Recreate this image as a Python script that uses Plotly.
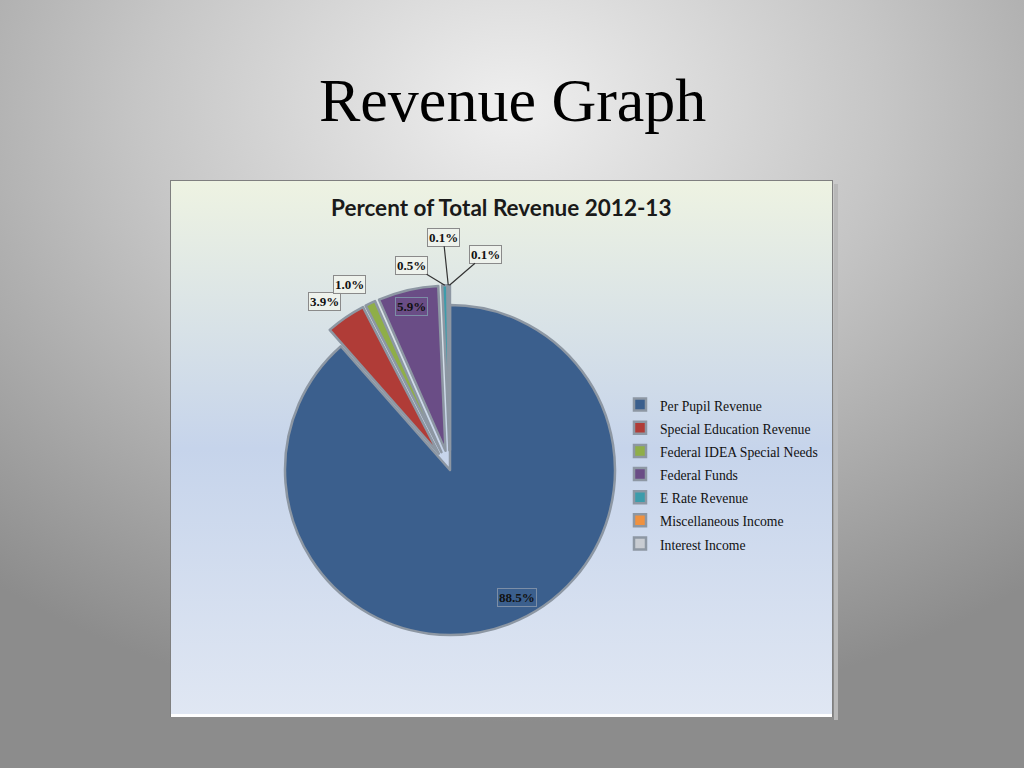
import math
import urllib.parse
import plotly.graph_objects as go

# ---------------- data ----------------
categories = [
    "Per Pupil Revenue",
    "Special Education Revenue",
    "Federal IDEA Special Needs",
    "Federal Funds",
    "E Rate Revenue",
    "Miscellaneous Income",
    "Interest Income",
]
values = [88.5, 3.9, 1.0, 5.9, 0.5, 0.1, 0.1]
slice_colors = ["#3b5f8d", "#b03c37", "#8fae48", "#6a4d86", "#3d9cab", "#f0913f", "#c8ccd2"]
pulls = [0.0, 0.12, 0.12, 0.12, 0.12, 0.12, 0.12]

slide_title = "Revenue Graph"
chart_title = "Percent of Total Revenue 2012-13"

# ---------------- geometry / layout ----------------
W, H = 1024, 768
CX, CY, R = 450, 470, 165
MAXPULL = max(pulls)
side = 2 * R * (1 + MAXPULL)
dom_x = [(CX - side / 2) / W, (CX + side / 2) / W]
dom_y = [1 - (CY + side / 2) / H, 1 - (CY - side / 2) / H]

# label placement style per slice: (radius factor, angle bias deg, inside?, arrow offset px or None)
label_style = [
    (0.87, -7, True, None),
    (1.15, -2.5, False, None),
    (1.16, -3, False, None),
    (0.90, 0, True, None),
    (1.0, 0, False, (-33, -20)),
    (1.0, 0, False, (-5, -48)),
    (1.0, 0, False, (36, -31)),
]

total = sum(values)
cum = 0.0
annotations = []
for v, p, (rf, bias, inside, arr) in zip(values, pulls, label_style):
    start = cum / total * 360
    cum += v
    end = cum / total * 360
    mid = math.radians((start + end) / 2)
    lab = math.radians((start + end) / 2 + bias)
    ox, oy = CX + p * R * math.sin(mid), CY - p * R * math.cos(mid)
    px, py = ox + rf * R * math.sin(lab), oy - rf * R * math.cos(lab)
    ann = dict(
        x=px / W, y=1 - py / H, xref="paper", yref="paper",
        xanchor="center", yanchor="middle",
        text=f"<b>{v:.1f}%</b>",
        font=dict(family="Liberation Serif", size=13, color="#111111"),
        borderwidth=1, borderpad=1,
    )
    if inside:
        ann.update(showarrow=False, bgcolor="rgba(0,0,0,0)", bordercolor="#7c8ea6")
    else:
        ann.update(bgcolor="rgba(238,242,236,0.95)", bordercolor="#8a8a8a")
        if arr is None:
            ann.update(showarrow=False)
        else:
            ann.update(showarrow=True, arrowhead=0, arrowwidth=1.2,
                       arrowcolor="#333333", ax=arr[0], ay=arr[1], standoff=0)
    annotations.append(ann)

annotations.append(dict(
    x=512 / W, y=1 - 100 / H, xref="paper", yref="paper", showarrow=False,
    xanchor="center", yanchor="middle",
    text=slide_title, font=dict(family="Liberation Serif", size=62, color="#000000"),
))
annotations.append(dict(
    x=501 / W, y=1 - 207 / H, xref="paper", yref="paper", showarrow=False,
    xanchor="center", yanchor="middle",
    text=f"<b>{chart_title}</b>", font=dict(family="Lato", size=22.5, color="#1a1a1a"),
))

# background (slide radial gradient + chart area linear gradient)
svg = f"""<svg xmlns='http://www.w3.org/2000/svg' width='{W}' height='{H}' viewBox='0 0 {W} {H}'>
<defs>
<radialGradient id='bg' cx='50%' cy='14%' r='80%' fx='50%' fy='14%'>
<stop offset='0' stop-color='#efefef'/>
<stop offset='0.45' stop-color='#c6c6c6'/>
<stop offset='1' stop-color='#8c8c8c'/>
</radialGradient>
<linearGradient id='ch' x1='0' y1='0' x2='0' y2='1'>
<stop offset='0' stop-color='#eef3e2'/>
<stop offset='0.5' stop-color='#c6d4eb'/>
<stop offset='1' stop-color='#e0e7f3'/>
</linearGradient>
</defs>
<rect x='0' y='0' width='{W}' height='{H}' fill='url(#bg)'/>
<rect x='834' y='184' width='4' height='536' fill='#b8b8b8'/>
<rect x='170.5' y='180.5' width='662' height='536' fill='url(#ch)' stroke='#7f7f7f' stroke-width='1'/>
<rect x='171' y='714' width='661' height='3' fill='#ffffff'/>
</svg>"""
bg_uri = "data:image/svg+xml;charset=utf-8," + urllib.parse.quote(svg)

legend_labels = [f"<span style='font-size:13.7px'>{c}</span>" for c in categories]

fig = go.Figure(go.Pie(
    labels=legend_labels,
    values=values,
    sort=False,
    direction="clockwise",
    rotation=0,
    pull=pulls,
    textinfo="none",
    hoverinfo="label+percent",
    marker=dict(colors=slice_colors, line=dict(color="#8d97a3", width=2.5)),
    domain=dict(x=dom_x, y=dom_y),
))

fig.update_layout(
    width=W, height=H,
    margin=dict(l=0, r=0, t=0, b=0),
    paper_bgcolor="#b5b5b5",
    images=[dict(source=bg_uri, xref="paper", yref="paper", x=0, y=1,
                 sizex=1, sizey=1, sizing="stretch", layer="below",
                 xanchor="left", yanchor="top")],
    showlegend=True,
    legend=dict(
        x=620 / W, y=1 - 388 / H, xanchor="left", yanchor="top",
        bgcolor="rgba(0,0,0,0)",
        font=dict(family="Liberation Serif", size=15.5, color="#111111"),
        traceorder="normal",
    ),
    annotations=annotations,
)

fig.write_html(
    "out.html",
    config={"displayModeBar": False},
    post_script="document.body.style.margin='0';document.body.style.overflow='hidden';",
)
